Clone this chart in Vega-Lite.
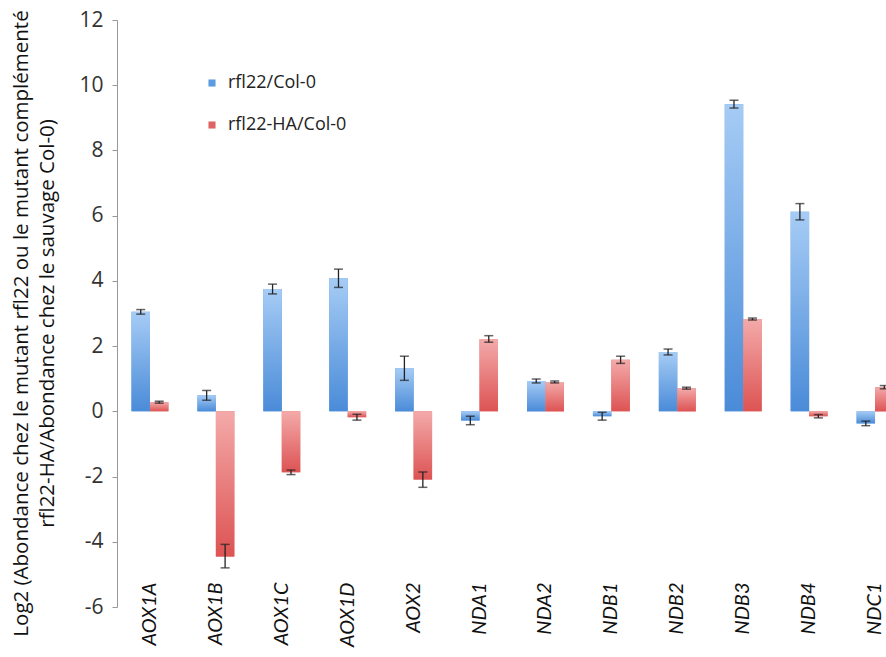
{
  "$schema": "https://vega.github.io/schema/vega-lite/v6.json",
  "width": 769,
  "height": 587,
  "autosize": {"type": "none"},
  "padding": {"left": 117, "top": 20, "right": 0, "bottom": 50},
  "config": {"view": {"stroke": null}, "font": "Open Sans"},
  "data": {
    "values": [
      {"gene": "AOX1A", "series": "rfl22/Col-0", "value": 3.05, "lo": 2.98, "hi": 3.12},
      {"gene": "AOX1A", "series": "rfl22-HA/Col-0", "value": 0.28, "lo": 0.25, "hi": 0.31},
      {"gene": "AOX1B", "series": "rfl22/Col-0", "value": 0.49, "lo": 0.34, "hi": 0.64},
      {"gene": "AOX1B", "series": "rfl22-HA/Col-0", "value": -4.45, "lo": -4.8, "hi": -4.08},
      {"gene": "AOX1C", "series": "rfl22/Col-0", "value": 3.75, "lo": 3.6, "hi": 3.9},
      {"gene": "AOX1C", "series": "rfl22-HA/Col-0", "value": -1.87, "lo": -1.94, "hi": -1.8},
      {"gene": "AOX1D", "series": "rfl22/Col-0", "value": 4.08, "lo": 3.8, "hi": 4.36},
      {"gene": "AOX1D", "series": "rfl22-HA/Col-0", "value": -0.18, "lo": -0.27, "hi": -0.09},
      {"gene": "AOX2", "series": "rfl22/Col-0", "value": 1.32, "lo": 0.95, "hi": 1.69},
      {"gene": "AOX2", "series": "rfl22-HA/Col-0", "value": -2.09, "lo": -2.33, "hi": -1.86},
      {"gene": "NDA1", "series": "rfl22/Col-0", "value": -0.28, "lo": -0.41, "hi": -0.15},
      {"gene": "NDA1", "series": "rfl22-HA/Col-0", "value": 2.22, "lo": 2.12, "hi": 2.32},
      {"gene": "NDA2", "series": "rfl22/Col-0", "value": 0.93, "lo": 0.87, "hi": 0.99},
      {"gene": "NDA2", "series": "rfl22-HA/Col-0", "value": 0.9, "lo": 0.87, "hi": 0.93},
      {"gene": "NDB1", "series": "rfl22/Col-0", "value": -0.15, "lo": -0.27, "hi": -0.03},
      {"gene": "NDB1", "series": "rfl22-HA/Col-0", "value": 1.58, "lo": 1.47, "hi": 1.69},
      {"gene": "NDB2", "series": "rfl22/Col-0", "value": 1.82, "lo": 1.73, "hi": 1.91},
      {"gene": "NDB2", "series": "rfl22-HA/Col-0", "value": 0.71, "lo": 0.68, "hi": 0.74},
      {"gene": "NDB3", "series": "rfl22/Col-0", "value": 9.42, "lo": 9.3, "hi": 9.54},
      {"gene": "NDB3", "series": "rfl22-HA/Col-0", "value": 2.83, "lo": 2.8, "hi": 2.86},
      {"gene": "NDB4", "series": "rfl22/Col-0", "value": 6.12, "lo": 5.87, "hi": 6.37},
      {"gene": "NDB4", "series": "rfl22-HA/Col-0", "value": -0.15, "lo": -0.2, "hi": -0.1},
      {"gene": "NDC1", "series": "rfl22/Col-0", "value": -0.37, "lo": -0.44, "hi": -0.3},
      {"gene": "NDC1", "series": "rfl22-HA/Col-0", "value": 0.74, "lo": 0.69, "hi": 0.79}
    ]
  },
  "encoding": {
    "x": {
      "field": "gene",
      "type": "nominal",
      "sort": null,
      "scale": {"range": [0, 791], "paddingInner": 0.44, "paddingOuter": 0.22},
      "axis": {
        "title": null,
        "domain": false,
        "ticks": false,
        "labelAngle": -90,
        "labelAlign": "right",
        "labelBaseline": "middle",
        "labelPadding": -25,
        "labelFont": "Lato",
        "labelFontStyle": "italic",
        "labelFontSize": 20,
        "labelColor": "#111",
        "labelOverlap": false
      }
    },
    "xOffset": {
      "field": "series",
      "type": "nominal",
      "sort": ["rfl22/Col-0", "rfl22-HA/Col-0"],
      "scale": {"paddingInner": 0, "paddingOuter": 0}
    }
  },
  "layer": [
    {
      "mark": {"type": "bar", "clip": true},
      "encoding": {
        "y": {
          "field": "value",
          "type": "quantitative",
          "scale": {"domain": [-6, 12], "nice": false, "zero": true},
          "axis": {
            "values": [-6, -4, -2, 0, 2, 4, 6, 8, 10, 12],
            "labelExpr": "toString(datum.value)",
            "grid": false,
            "domainColor": "#999",
            "tickColor": "#999",
            "tickSize": 5,
            "labelFontSize": 21,
            "labelColor": "#333",
            "labelPadding": 9,
            "title": ["Log2 (Abondance chez le mutant rfl22 ou le mutant complémenté", "rfl22-HA/Abondance chez le sauvage Col-0)"],
            "titleFontSize": 20.5,
            "titleFontWeight": "normal",
            "titleColor": "#111",
            "titleX": -106,
            "titleY": 303,
            "titleAngle": -90,
            "titleAlign": "center",
            "titleBaseline": "top",
            "titleLineHeight": 26
          }
        },
        "color": {
          "field": "series",
          "type": "nominal",
          "sort": ["rfl22/Col-0", "rfl22-HA/Col-0"],
          "scale": {"domain": ["rfl22/Col-0", "rfl22-HA/Col-0"], "range": ["#5b9be0", "#e06363"]},
          "legend": {
            "title": null,
            "orient": "none",
            "legendX": 86,
            "legendY": 54,
            "symbolType": "square",
            "symbolSize": 50,
            "symbolStrokeWidth": 0,
            "labelFontSize": 18,
            "labelColor": "#222",
            "labelOffset": 7,
            "rowPadding": 24
          }
        }
      }
    },
    {
      "mark": {"type": "bar", "clip": true},
      "encoding": {
        "y": {"field": "value", "type": "quantitative"},
        "fill": {
          "condition": {
            "test": "datum.series === 'rfl22/Col-0'",
            "value": {
              "gradient": "linear", "x1": 0, "y1": 0, "x2": 0, "y2": 1,
              "stops": [{"offset": 0, "color": "#a6ccf5"}, {"offset": 1, "color": "#4a8bd8"}]
            }
          },
          "value": {
            "gradient": "linear", "x1": 0, "y1": 0, "x2": 0, "y2": 1,
            "stops": [{"offset": 0, "color": "#f4aaaa"}, {"offset": 1, "color": "#dd5353"}]
          }
        }
      }
    },
    {
      "mark": {"type": "rule", "clip": true, "color": "#222", "strokeWidth": 1.3},
      "encoding": {
        "y": {"field": "lo", "type": "quantitative"},
        "y2": {"field": "hi"}
      }
    },
    {
      "mark": {"type": "tick", "clip": true, "color": "#222", "size": 9, "thickness": 1.5},
      "encoding": {"y": {"field": "lo", "type": "quantitative"}}
    },
    {
      "mark": {"type": "tick", "clip": true, "color": "#222", "size": 9, "thickness": 1.5},
      "encoding": {"y": {"field": "hi", "type": "quantitative"}}
    }
  ]
}
